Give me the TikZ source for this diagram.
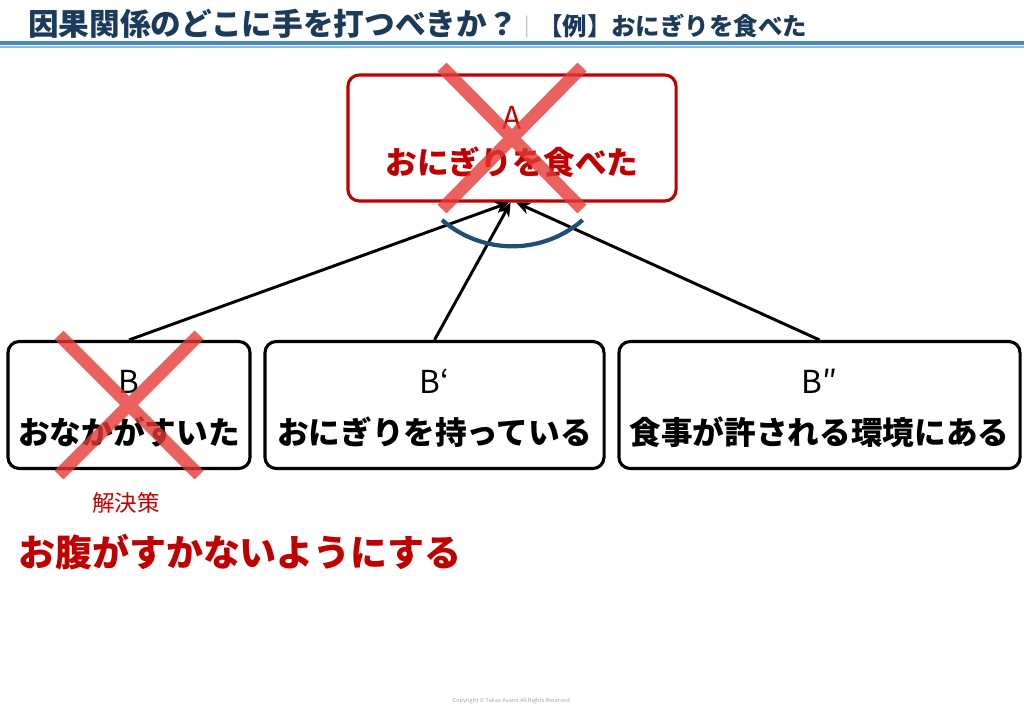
\documentclass[tikz,border=0pt]{standalone}
\usepackage{fontspec}
\setmainfont{Noto Sans CJK JP}
\usetikzlibrary{arrows.meta, positioning, calc}
\definecolor{cnavy}{HTML}{1B3A5C}
\definecolor{cred}{HTML}{C00000}
\definecolor{ccross}{HTML}{E53935}
\definecolor{carc}{HTML}{1F4E79}
\definecolor{cline}{HTML}{4A8AB8}
\definecolor{clight}{HTML}{8DBBDA}
\newcommand{\tallstrut}{\rule{0pt}{22pt}}
\tikzset{
  every picture/.style={line width=2pt},
  box/.style={draw=#1, text=#1, rounded corners=8pt, align=center, minimum height=3.175cm,
    font=\fontsize{22.5}{36}\selectfont, line width=2.2pt},
  box/.default=black,
  arrow/.style={-{Stealth[length=3.5mm, width=3mm]}, line width=2.1pt},
  cross/.style={draw=ccross, draw opacity=0.8, line width=9pt},
  title/.style={font=\fontsize{21.8}{22}\selectfont\bfseries, text=cnavy, anchor=west},
  note/.style={text=cred, anchor=west},
}

\begin{document}
\begin{tikzpicture}[x=0.025cm, y=-0.025cm]
  \useasboundingbox (0,0) rectangle (1024,709);
  % header
  \node[title] (head) at (22,24) {因果関係のどこに手を打つべきか？};
  \node[text=black!25, font=\fontsize{14}{14}\selectfont] (bar) at (527,27) {|};
  \node[title, font=\fontsize{17.4}{18}\selectfont\bfseries] (ex) at (532,26) {【例】おにぎりを食べた};
  \draw[cline, line width=2.2pt] (0,43) -- (1024,43);
  \draw[clight, line width=1pt] (0,47) -- (1024,47);

  % boxes
  \node[box=cred, minimum width=8.2cm, minimum height=3.15cm, font=\fontsize{22.5}{32}\selectfont] (a) at (512,138)
    {\tallstrut A\\\textbf{おにぎりを食べた}};
  \node[box, minimum width=6.05cm] (b) at (129,405) {\tallstrut B\\\textbf{おなかがすいた}};
  \node[box, minimum width=8.475cm] (b1) at (434.5,405) {\tallstrut B‘\\\textbf{おにぎりを持っている}};
  \node[box, minimum width=10.025cm] (b2) at (819.5,405) {\tallstrut B″\\\textbf{食事が許される環境にある}};

  % causes
  \draw[arrow] (b.north) -- ([xshift=-2pt]a.south);
  \draw[arrow] (b1.north) -- ([xshift=-1pt]a.south);
  \draw[arrow] (b2.north) -- ([xshift=3pt]a.south);
  \coordinate (arcl) at (442,220);
  \draw[carc, line width=3pt] (arcl) arc[start angle=229, end angle=311, radius=2.68cm];

  % crossed out
  \draw[cross] ([shift={(-70,-71)}]a.center) -- ([shift={(70,71)}]a.center)
    ([shift={(70,-71)}]a.center) -- ([shift={(-70,71)}]a.center);
  \draw[cross] ([shift={(-70,-70)}]b.center) -- ([shift={(70,70)}]b.center)
    ([shift={(70,-70)}]b.center) -- ([shift={(-70,70)}]b.center);

  % solution
  \node[note, font=\fontsize{16}{16}\selectfont] (sollabel) at (86,503) {解決策};
  \node[note, font=\fontsize{26.3}{27}\selectfont\bfseries] (sol) at (12,552) {お腹がすかないようにする};
  \node[text=black!35, font=\fontsize{4}{4}\selectfont] (copy) at (512,701) {Copyright © Takao Asano All Rights Reserved.};
\end{tikzpicture}
\end{document}
